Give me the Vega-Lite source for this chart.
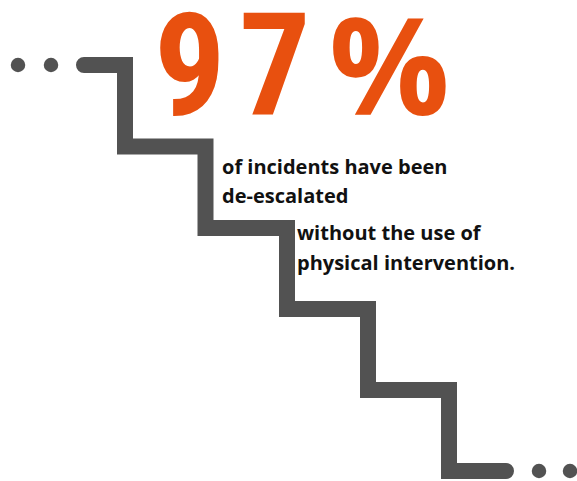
{
  "$schema": "https://vega.github.io/schema/vega-lite/v6.json",
  "width": 577,
  "height": 481,
  "padding": 0,
  "autosize": {"type": "none"},
  "background": "white",
  "config": {"view": {"stroke": null}},
  "datasets": {
    "stairs": [
      {"i": 0, "x": 84, "y": 65},
      {"i": 1, "x": 125, "y": 65},
      {"i": 2, "x": 125, "y": 146.5},
      {"i": 3, "x": 205.5, "y": 146.5},
      {"i": 4, "x": 205.5, "y": 228},
      {"i": 5, "x": 287, "y": 228},
      {"i": 6, "x": 287, "y": 309},
      {"i": 7, "x": 368, "y": 309},
      {"i": 8, "x": 368, "y": 390},
      {"i": 9, "x": 449, "y": 390},
      {"i": 10, "x": 449, "y": 471},
      {"i": 11, "x": 506, "y": 471}
    ],
    "dots": [
      {"x": 18, "y": 65},
      {"x": 51, "y": 65},
      {"x": 539, "y": 471},
      {"x": 570, "y": 471}
    ],
    "big": [
      {"t": "9", "x": 154, "y": 115},
      {"t": "7", "x": 239, "y": 114},
      {"t": "%", "x": 329, "y": 115}
    ],
    "lines": [
      {"t": "of incidents have been", "x": 222, "y": 174},
      {"t": "de-escalated", "x": 222, "y": 203},
      {"t": "without the use of", "x": 297, "y": 240},
      {"t": "physical intervention.", "x": 297, "y": 270}
    ]
  },
  "layer": [
    {
      "data": {"name": "stairs"},
      "mark": {"type": "line", "color": "#525252", "strokeWidth": 16, "strokeCap": "round", "strokeJoin": "miter"},
      "encoding": {
        "x": {"field": "x", "type": "quantitative", "scale": {"domain": [0, 577], "nice": false, "zero": false}, "axis": null},
        "y": {"field": "y", "type": "quantitative", "scale": {"domain": [0, 481], "nice": false, "zero": false, "reverse": true}, "axis": null},
        "order": {"field": "i"}
      }
    },
    {
      "data": {"name": "dots"},
      "mark": {"type": "circle", "color": "#525252", "opacity": 1, "size": 210},
      "encoding": {
        "x": {"field": "x", "type": "quantitative", "axis": null},
        "y": {"field": "y", "type": "quantitative", "axis": null}
      }
    },
    {
      "data": {"name": "big"},
      "transform": [{"filter": "datum.t !== '%'"}],
      "mark": {"type": "text", "color": "#E8500F", "font": "Roboto Condensed, Roboto", "fontWeight": "bold", "fontSize": 142, "align": "left", "baseline": "alphabetic"},
      "encoding": {
        "x": {"field": "x", "type": "quantitative", "axis": null},
        "y": {"field": "y", "type": "quantitative", "axis": null},
        "text": {"field": "t"}
      }
    },
    {
      "data": {"name": "big"},
      "transform": [{"filter": "datum.t === '%'"}],
      "mark": {"type": "text", "color": "#E8500F", "font": "Open Sans", "fontWeight": "bold", "fontSize": 134, "align": "left", "baseline": "alphabetic"},
      "encoding": {
        "x": {"field": "x", "type": "quantitative", "axis": null},
        "y": {"field": "y", "type": "quantitative", "axis": null},
        "text": {"field": "t"}
      }
    },
    {
      "data": {"name": "lines"},
      "mark": {"type": "text", "color": "#111111", "font": "Open Sans", "fontWeight": "bold", "fontSize": 20, "align": "left", "baseline": "alphabetic"},
      "encoding": {
        "x": {"field": "x", "type": "quantitative", "axis": null},
        "y": {"field": "y", "type": "quantitative", "axis": null},
        "text": {"field": "t"}
      }
    }
  ]
}
